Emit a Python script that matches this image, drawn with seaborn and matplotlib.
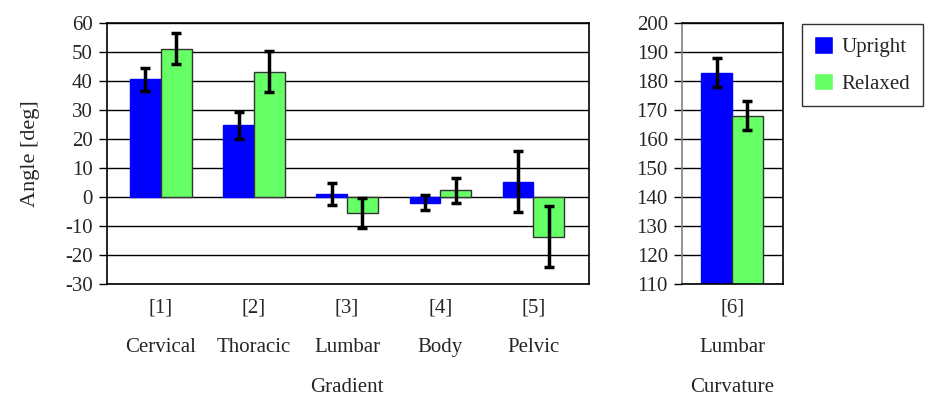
# Spine angles: upright vs relaxed posture
import pandas as pd
import numpy as np
import matplotlib
matplotlib.use("Agg")
import matplotlib.pyplot as plt
import seaborn as sns

# Datos
gradient_labels = ["[1]\n\nCervical", "[2]\n\nThoracic", "[3]\n\nLumbar\n\nGradient",
                   "[4]\n\nBody", "[5]\n\nPelvic"]
gradient_upright = [40.5, 24.6, 1.0, -2.0, 5.2]
gradient_relaxed = [51.0, 43.1, -5.6, 2.3, -13.7]
gradient_upright_err = [4.0, 4.7, 3.9, 2.65, 10.45]
gradient_relaxed_err = [5.4, 7.1, 5.3, 4.3, 10.55]

curv_labels = ["[6]\n\nLumbar\n\nCurvature"]
curv_upright = [182.8]
curv_relaxed = [168.0]
curv_upright_err = [4.95]
curv_relaxed_err = [4.95]

series = ["Upright", "Relaxed"]
colors = {"Upright": "#0000FF", "Relaxed": "#66FF66"}
edges = {"Upright": "#0000FF", "Relaxed": "#333333"}

sns.set_style("white")
plt.rcParams['font.family'] = ['Liberation Serif', 'DejaVu Serif']
plt.rcParams['font.size'] = 15
plt.rcParams['axes.unicode_minus'] = False


def make_df(labels, up, rel):
    return pd.DataFrame({
        "cat": labels * 2,
        "val": up + rel,
        "pos": ["Upright"] * len(labels) + ["Relaxed"] * len(labels),
    })


fig = plt.figure(figsize=(9.38, 3.96), dpi=100)
ax1 = fig.add_axes([0.1138, 0.283, 0.5145, 0.66])
ax2 = fig.add_axes([0.7268, 0.283, 0.1083, 0.66])

panels = [
    (ax1, make_df(gradient_labels, gradient_upright, gradient_relaxed),
     [gradient_upright, gradient_relaxed],
     [gradient_upright_err, gradient_relaxed_err], (-30, 60), (-0.58, 4.6)),
    (ax2, make_df(curv_labels, curv_upright, curv_relaxed),
     [curv_upright, curv_relaxed],
     [curv_upright_err, curv_relaxed_err], (110, 200), (-0.54, 0.55)),
]

for ax, df, vals, errs, ylim, xlim in panels:
    sns.barplot(data=df, x="cat", y="val", hue="pos", palette=colors,
                hue_order=series, width=0.66, saturation=1, errorbar=None,
                ax=ax, zorder=2)
    for cont, v, err, s in zip(ax.containers, vals, errs, series):
        for bar in cont:
            bar.set_edgecolor(edges[s])
            bar.set_linewidth(1.0)
        xs = [b.get_x() + b.get_width() / 2 for b in cont]
        ax.errorbar(xs, v, yerr=err, fmt="none", ecolor="black",
                    elinewidth=2.5, capsize=3.5, capthick=2.5, zorder=4)
    ax.set_ylim(*ylim)
    ax.set_xlim(*xlim)
    ax.set_yticks(np.arange(ylim[0], ylim[1] + 1, 10))
    ax.yaxis.grid(True, color="black", linewidth=1.0, zorder=0)
    ax.set_axisbelow(True)
    ax.tick_params(axis="y", left=True, length=6, width=1, color="black",
                   labelsize=15, pad=4)
    ax.tick_params(axis="x", bottom=False, labelsize=15, pad=7)
    for lbl in ax.get_xticklabels():
        lbl.set_linespacing(1.06)
    for sp in ax.spines.values():
        sp.set_color("black")
        sp.set_linewidth(1.2)
    ax.set_xlabel("")
    ax.set_ylabel("")
    ax.get_legend().remove()

ax2.spines["left"].set_color("#808080")
ax1.set_ylabel("Angle [deg]", fontsize=16, labelpad=18)

handles, labels = ax1.get_legend_handles_labels()
leg = fig.legend(handles, labels, loc="upper left", bbox_to_anchor=(0.855, 0.94),
                 frameon=True, fancybox=False, edgecolor="black", fontsize=15,
                 handlelength=0.9, handleheight=0.9, handletextpad=0.4,
                 labelspacing=0.75, borderpad=0.6, borderaxespad=0)
leg.get_frame().set_linewidth(1.0)

plt.savefig("out.png", dpi=100)
